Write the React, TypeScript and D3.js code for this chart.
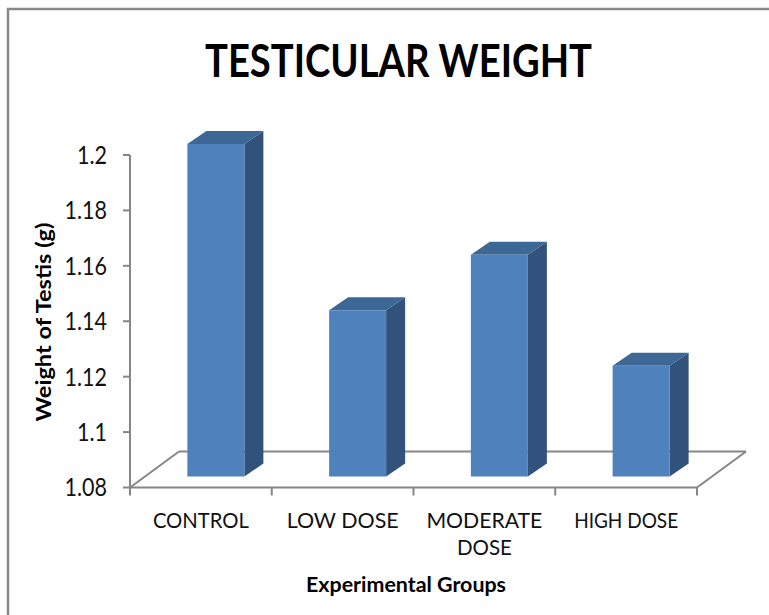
import React from "react";
import * as d3 from "d3";

const categories = ["CONTROL", "LOW DOSE", "MODERATE DOSE", "HIGH DOSE"];
const categoryLines = [["CONTROL"], ["LOW DOSE"], ["MODERATE", "DOSE"], ["HIGH DOSE"]];
const values = [1.2, 1.14, 1.16, 1.12];
const yTicks = [1.08, 1.1, 1.12, 1.14, 1.16, 1.18, 1.2];
const yTickLabels = ["1.08", "1.1", "1.12", "1.14", "1.16", "1.18", "1.2"];
const labelWidths = [[96], [112], [116, 55], [104]];

const W = 769;
const H = 615;
const FONT = "Lato, 'Open Sans', sans-serif";

export default function App() {
  const x = d3.scaleBand<string>().domain(categories).range([130, 697]).padding(0);
  const y = d3.scaleLinear().domain([1.08, 1.2]).range([487.5, 155]);
  const bw = x.bandwidth();
  const floorD = { dx: 49, dy: -36 };
  const barOff = { dx: 15, dy: -11 };
  const barD = { dx: 19, dy: -13 };
  const barW = 57;
  const axisColor = "#868686";
  const x0 = x.range()[0];
  const x1 = x.range()[1];
  const yBase = y(1.08);

  return (
    <svg width={W} height={H} style={{ position: "absolute", left: 0, top: 0, background: "#fff" }}>
      <rect x={0} y={0} width={W} height={H} fill="#fff" />
      {/* chart border */}
      <path d={`M8,${H + 5} L8,9 L${W + 5},9`} fill="none" stroke="#888" strokeWidth={2.5} />

      {/* title */}
      <g transform="translate(398.5,77) scale(1,1.08)">
        <text x={0} y={0} textAnchor="middle" fontFamily={FONT} fontWeight={700} fontSize={43}
          textLength={387} lengthAdjust="spacingAndGlyphs" fill="#000">TESTICULAR WEIGHT</text>
      </g>

      {/* floor back and sides */}
      <g stroke={axisColor} strokeWidth={2} fill="none">
        <line x1={x0 + floorD.dx} y1={yBase + floorD.dy} x2={x1 + floorD.dx} y2={yBase + floorD.dy} />
        <line x1={x0} y1={yBase} x2={x0 + floorD.dx} y2={yBase + floorD.dy} />
        <line x1={x1} y1={yBase} x2={x1 + floorD.dx} y2={yBase + floorD.dy} />
      </g>

      {/* bars */}
      {categories.map((c, i) => {
        const xl = (x(c) as number) + bw / 2 + barOff.dx - barW / 2;
        const xr = xl + barW;
        const top = y(values[i]) + barOff.dy;
        const bot = yBase + barOff.dy;
        return (
          <g key={c}>
            <polygon
              points={`${xr},${top} ${xr + barD.dx},${top + barD.dy} ${xr + barD.dx},${bot + barD.dy} ${xr},${bot}`}
              fill="#30527B" />
            <polygon
              points={`${xl},${top} ${xl + barD.dx},${top + barD.dy} ${xr + barD.dx},${top + barD.dy} ${xr},${top}`}
              fill="#3D6795" />
            <rect x={xl} y={top} width={barW} height={bot - top} fill="#4F81BD" />
          </g>
        );
      })}

      {/* front axis lines */}
      <g stroke={axisColor} strokeWidth={2} fill="none">
        <line x1={x0} y1={yBase} x2={x1} y2={yBase} />
        <line x1={x0} y1={y(1.2)} x2={x0} y2={yBase} />
        {yTicks.map((t) => (
          <line key={t} x1={x0 - 7} y1={y(t)} x2={x0} y2={y(t)} />
        ))}
        {[...categories.map((c) => x(c) as number), x1].map((v, i) => (
          <line key={i} x1={v} y1={yBase} x2={v} y2={yBase + 8} />
        ))}
      </g>

      {/* y tick labels */}
      {yTicks.map((t, i) => (
        <g key={t} transform={`translate(107,${y(t)}) scale(1,1.15)`}>
          <text x={0} y={0} dy="0.36em" textAnchor="end" fontFamily={FONT} fontSize={21.5} fill="#111">
            {yTickLabels[i]}
          </text>
        </g>
      ))}

      {/* category labels */}
      {categories.map((c, i) => (
        <g key={c}>
          {categoryLines[i].map((ln, j) => (
            <g key={j} transform={`translate(${(x(c) as number) + bw / 2},${528 + j * 27}) scale(1,1.15)`}>
              <text x={0} y={0} fontFamily={FONT} fontSize={18} fill="#111" textAnchor="middle"
                textLength={labelWidths[i][j]} lengthAdjust="spacingAndGlyphs">{ln}</text>
            </g>
          ))}
        </g>
      ))}

      {/* axis titles */}
      <g transform="translate(406,592) scale(1,1.1)">
        <text x={0} y={0} textAnchor="middle" fontFamily={FONT} fontWeight={700} fontSize={19}
          textLength={200} lengthAdjust="spacingAndGlyphs" fill="#000">Experimental Groups</text>
      </g>
      <g transform="translate(51,322) rotate(-90) scale(1,1.1)">
        <text x={0} y={0} textAnchor="middle" fontFamily={FONT} fontWeight={700}
          fontSize={19} textLength={199} lengthAdjust="spacingAndGlyphs" fill="#000">Weight of Testis (g)</text>
      </g>
    </svg>
  );
}
